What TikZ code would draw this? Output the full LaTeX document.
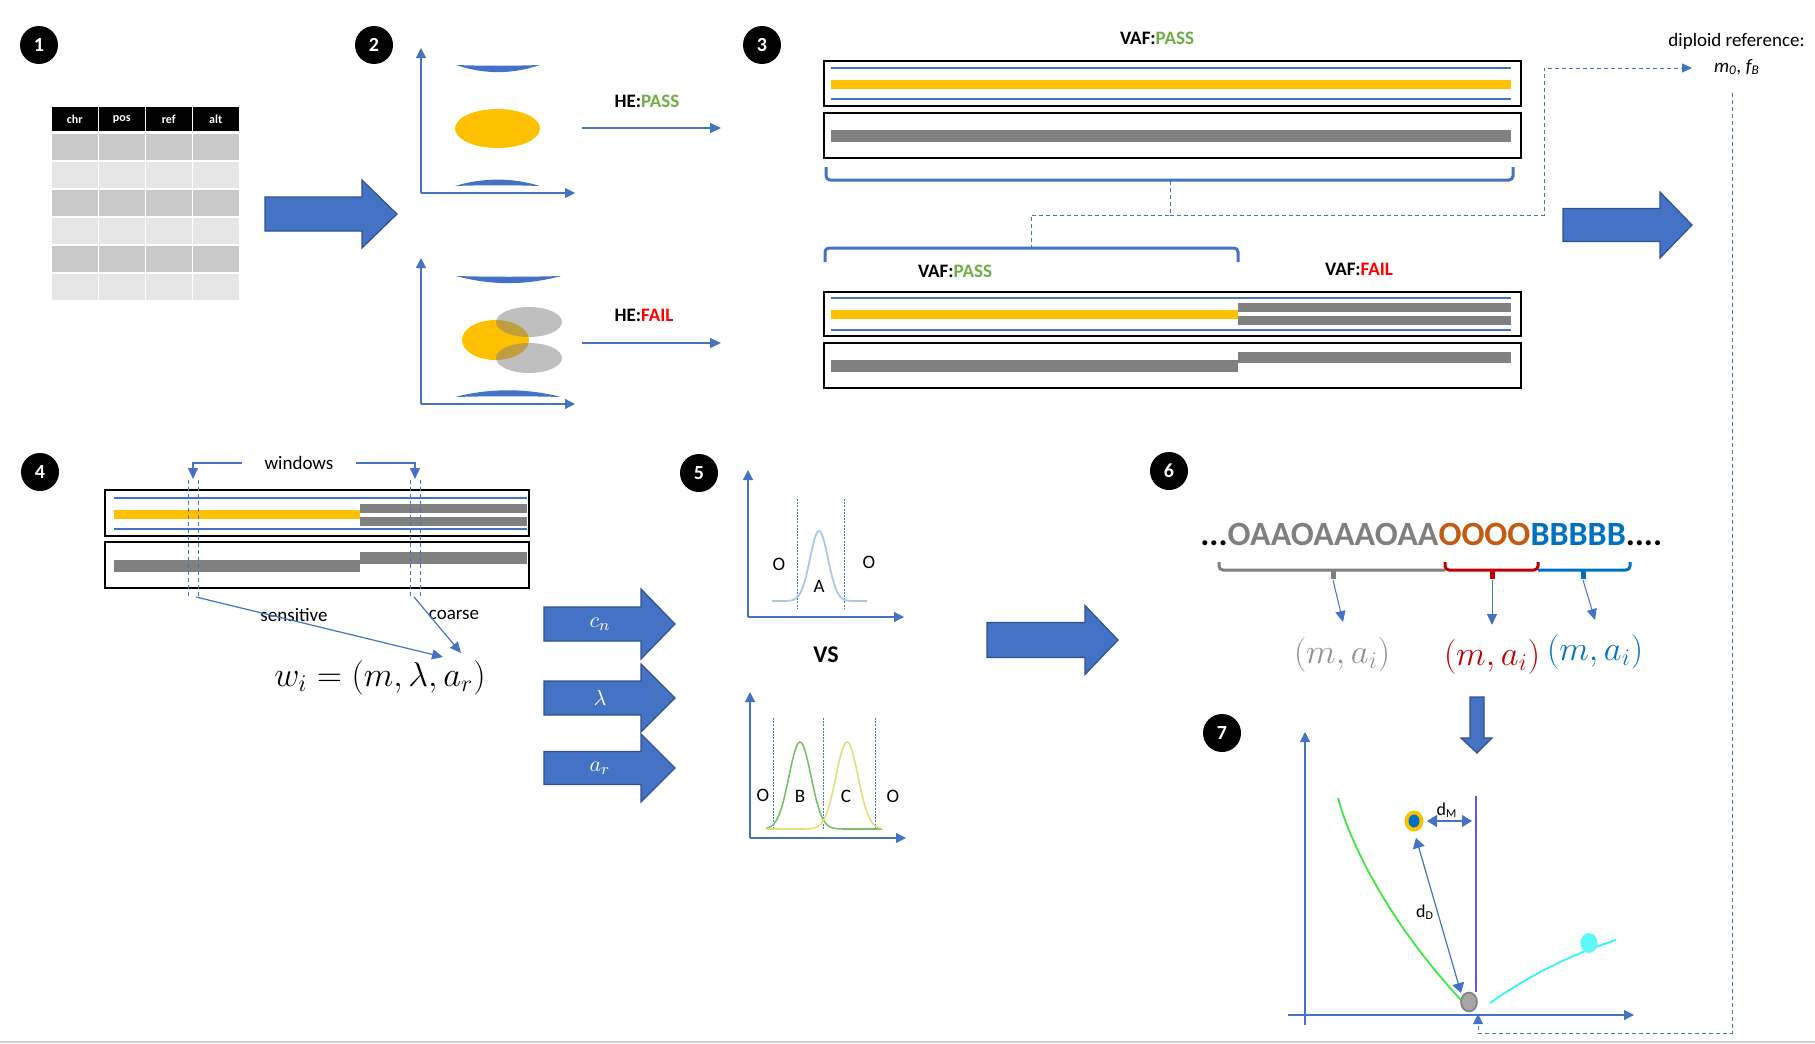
\documentclass[tikz,border=0pt]{standalone}
\usepackage{fontspec}
\setmainfont{Carlito}
\usetikzlibrary{arrows.meta,calc}

\definecolor{offblue}{HTML}{4472C4}
\definecolor{offblueline}{HTML}{2F528F}
\definecolor{offyellow}{HTML}{FFC000}
\definecolor{bargray}{HTML}{808080}
\definecolor{passgreen}{HTML}{70AD47}
\definecolor{failred}{HTML}{FF0000}
\definecolor{darkred}{HTML}{C00000}
\definecolor{seqgray}{HTML}{7F7F7F}
\definecolor{labgray}{HTML}{909090}
\definecolor{seqorange}{HTML}{C55A11}
\definecolor{seqblue}{HTML}{0070C0}
\definecolor{cellgray}{HTML}{C9C9C9}
\definecolor{celllight}{HTML}{E6E6E6}
\definecolor{gaussblue}{HTML}{A9C8E8}
\definecolor{gaussgreen}{HTML}{7CBF6B}
\definecolor{gaussyellow}{HTML}{E0E07A}
\definecolor{limitblue}{HTML}{5A5AF0}
\definecolor{curvegreen}{HTML}{3EE83E}
\definecolor{curvecyan}{HTML}{33F5F5}

\tikzset{
  numdot/.style={circle,fill=black,text=white,font=\bfseries\fontsize{10}{12}\selectfont,minimum size=19pt,inner sep=0pt},
  headtext/.style={text=white,font=\bfseries\fontsize{6}{7}\selectfont,inner sep=0pt},
  flagtext/.style={font=\bfseries\fontsize{9.5}{11}\selectfont,inner sep=0pt},
  plaintext/.style={font=\fontsize{9.5}{11}\selectfont,inner sep=0pt},
  bigmath/.style={font=\fontsize{17}{20}\selectfont,inner sep=0pt},
  arrmath/.style={text=white,font=\fontsize{11}{13}\selectfont,inner sep=0pt},
  thinarr/.style={draw=offblue,line width=0.6pt,-{Triangle[length=5.5pt,width=5pt]}},
  axisarr/.style={draw=offblue,line width=0.6pt,-{Triangle[length=5pt,width=5pt]}},
  blockarr/.style={fill=offblue,draw=offblueline,line width=0.6pt},
  dashline/.style={draw=offblue,line width=0.5pt,dash pattern=on 2pt off 1.5pt},
  chrombox/.style={draw=black,line width=1pt},
  bluebar/.style={draw=offblue,line width=1.3pt},
  bracket/.style={line width=1.5pt,rounded corners=2pt},
}

% block arrow: x start, head start, tip, y middle, shaft half, head half
\newcommand{\blockarrow}[6]{%
  \draw[blockarr] (#1,#4-#5) -- (#2,#4-#5) -- (#2,#4-#6) -- (#3,#4)
    -- (#2,#4+#6) -- (#2,#4+#5) -- (#1,#4+#5) -- cycle;}

\begin{document}
\begin{tikzpicture}[x=0.5pt,y=-0.5pt]
\useasboundingbox (0,0) rectangle (1815,1044);

%%%%% 1: variant table %%%%%
\node[numdot] (n1) at (39,45) {1};
\foreach \t [count=\i from 0] in {chr,pos,ref,alt}{
  \fill[black] (52+47*\i,107) rectangle (97.5+47*\i,131);
  \node[headtext] (hd\i) at (74.75+47*\i,119) {\t};
  \foreach \r in {0,2,4}{\fill[cellgray] (52+47*\i,134+28*\r) rectangle (97.5+47*\i,160+28*\r);}
  \foreach \r in {1,3,5}{\fill[celllight] (52+47*\i,134+28*\r) rectangle (97.5+47*\i,160+28*\r);}
}
\blockarrow{265}{362}{397}{214}{17}{34}

%%%%% 2: HE test %%%%%
\node[numdot] (n2) at (374,45) {2};
\draw[axisarr] (421,193) -- (421,48);
\draw[axisarr] (421,193) -- (575,193);
\fill[offblue] (456,65) .. controls (484,66) and (512,66) .. (540,65) .. controls (512,74.5) and (484,74.5) .. (456,65) -- cycle;
\fill[offblue] (455,186) .. controls (483,185) and (512,185) .. (540,186) .. controls (512,177.5) and (483,177.5) .. (455,186) -- cycle;
\fill[offyellow] (497.5,128.5) ellipse [x radius=42.5, y radius=19.5];
\node[flagtext] (hepass) at (647,101) {HE:\textcolor{passgreen}{PASS}};
\coordinate (hp1) at (582,128); \coordinate (hp2) at (721,128);
\draw[thinarr] (hp1) -- (hp2);

\draw[axisarr] (421,404) -- (421,258);
\draw[axisarr] (421,404) -- (575,404);
\fill[offblue] (456,276) .. controls (491,277) and (526,277) .. (561,276) .. controls (526,285.5) and (491,285.5) .. (456,276) -- cycle;
\fill[offblue] (455,397) .. controls (490,396) and (526,396) .. (561,397) .. controls (526,388) and (490,388) .. (455,397) -- cycle;
\fill[offyellow] (495.5,340) ellipse [x radius=33.5, y radius=20];
\fill[bargray,opacity=0.5] (529,322) ellipse [x radius=33, y radius=15];
\fill[bargray,opacity=0.5] (529,358) ellipse [x radius=33, y radius=15];
\node[flagtext] (hefail) at (644,315) {HE:\textcolor{failred}{FAIL}};
\coordinate (hf1) at (582,343); \coordinate (hf2) at (721,343);
\draw[thinarr] (hf1) -- (hf2);

%%%%% 3: VAF test %%%%%
\node[numdot] (n3) at (762,45) {3};
\node[flagtext] (vaftop) at (1157,38) {VAF:\textcolor{passgreen}{PASS}};
\draw[chrombox] (824,61) rectangle (1521,106);
\draw[bluebar] (831,68) -- (1511,68);
\fill[offyellow] (831,80) rectangle (1511,89);
\draw[bluebar] (831,99) -- (1511,99);
\draw[chrombox] (824,113) rectangle (1521,158);
\fill[bargray] (831,130) rectangle (1511,142);
\draw[bracket,draw=offblue] (826,167) -- (826,180) -- (1513,180) -- (1513,167);

\draw[bracket,draw=offblue] (825,262) -- (825,248) -- (1238,248) -- (1238,262);
\node[flagtext] (vafpass) at (955,271) {VAF:\textcolor{passgreen}{PASS}};
\node[flagtext] (vaffail) at (1359,269) {VAF:\textcolor{failred}{FAIL}};
\draw[chrombox] (824,292) rectangle (1521,336);
\draw[bluebar] (831,298) -- (1511,298);
\fill[offyellow] (831,310) rectangle (1238,319);
\fill[bargray] (1238,303) rectangle (1511,312);
\fill[bargray] (1238,316) rectangle (1511,325);
\draw[bluebar] (831,330) -- (1511,330);
\draw[chrombox] (824,343) rectangle (1521,388);
\fill[bargray] (831,360) rectangle (1238,372);
\fill[bargray] (1238,352) rectangle (1511,363);

\coordinate (brk) at (1170,181);
\coordinate (split) at (1170,215);
\coordinate (lowbrk) at (1031,247);
\coordinate (refin) at (1692,68);
\draw[dashline] (brk) -- (split) -| (lowbrk);
\draw[dashline,-{Triangle[length=5pt,width=4.5pt]}] (split) -- (1544,215) |- (refin);
\node[plaintext,anchor=east] (dipref) at (1805,41) {diploid reference:};
\node[plaintext,font=\itshape\fontsize{9.5}{11}\selectfont] (mzero) at (1737,67) {m\textsubscript{0}, f\textsubscript{B}};
\blockarrow{1563}{1660}{1692}{225}{16.5}{33}

%%%%% 4: windows %%%%%
\node[numdot] (n4) at (40,472) {4};
\draw[chrombox] (105,490) rectangle (529,536);
\draw[bluebar] (114,498) -- (527,498);
\fill[offyellow] (114,510) rectangle (360,519);
\fill[bargray] (360,504) rectangle (527,513);
\fill[bargray] (360,517) rectangle (527,526);
\draw[bluebar] (114,529) -- (527,529);
\draw[chrombox] (105,542) rectangle (529,588);
\fill[bargray] (114,560) rectangle (360,572);
\fill[bargray] (360,552) rectangle (527,564);
\foreach \x in {188,198,410,420}{\draw[dashline] (\x,480) -- (\x,597);}

\node[plaintext] (win) at (299,463) {windows};
\coordinate (winL) at (193,479); \coordinate (winR) at (415,479);
\draw[thinarr] ($(win.west)+(-22,0)$) -| (winL);
\draw[thinarr] ($(win.east)+(22,0)$) -| (winR);
\node[plaintext] (sens) at (294,615) {sensitive};
\node[plaintext] (coarse) at (454,615) {coarse};
\coordinate (sensfrom) at (196,597); \coordinate (sensto) at (443,657);
\coordinate (coarsefrom) at (414,597); \coordinate (coarseto) at (461,653);
\draw[thinarr] (sensfrom) -- (sensto);
\draw[thinarr] (coarsefrom) -- (coarseto);
\node[bigmath] (wi) at (380,678) {$w_i=(m,\lambda,a_r)$};

\blockarrow{544}{641}{675}{624}{17}{35}
\node[arrmath] (cn) at (600,624) {$c_n$};
\blockarrow{544}{641}{675}{698}{17}{34}
\node[arrmath] (lam) at (600,698) {$\lambda$};
\blockarrow{544}{641}{675}{768}{16.5}{34}
\node[arrmath] (ar) at (600,768) {$a_r$};

%%%%% 5: segment models %%%%%
\node[numdot] (n5) at (699,473) {5};
\draw[axisarr] (748,617) -- (748,470);
\draw[axisarr] (748,617) -- (904,617);
\foreach \x in {797,844}{\draw[offblue,line width=0.4pt,dash pattern=on 1pt off 0.6pt] (\x,499) -- (\x,608);}
\draw[gaussblue,line width=0.9pt] plot[domain=772:867,samples=70] (\x,{601-70*exp(-((\x-819)^2)/162)});
\node[plaintext] (oa1) at (779,564) {O};
\node[plaintext] (aa) at (819,586) {A};
\node[plaintext] (oa2) at (869,562) {O};
\node[font=\bfseries\fontsize{12}{14}\selectfont] (vs) at (826,655) {VS};

\draw[axisarr] (750,838) -- (750,692);
\draw[axisarr] (750,838) -- (906,838);
\foreach \x in {773,823,875}{\draw[offblue,line width=0.4pt,dash pattern=on 1pt off 0.6pt] (\x,718) -- (\x,829);}
\draw[gaussgreen,line width=0.8pt] plot[domain=766:882,samples=80] (\x,{829-87*exp(-((\x-800)^2)/242)});
\draw[gaussyellow,line width=0.8pt] plot[domain=766:882,samples=80] (\x,{829-87*exp(-((\x-847)^2)/242)});
\node[plaintext] (ob1) at (763,795) {O};
\node[plaintext] (bb) at (800,796) {B};
\node[plaintext] (cc) at (846,796) {C};
\node[plaintext] (ob2) at (893,796) {O};

\blockarrow{987}{1085}{1118}{640}{17.5}{34.5}

%%%%% 6: segmentation %%%%%
\node[numdot] (n6) at (1169,471) {6};
\node[font=\bfseries\fontsize{17}{20}\selectfont,inner sep=0pt,anchor=base west] (seq) at (1200,545)
  {...\textcolor{seqgray}{OAAOAAAOAA}\textcolor{seqorange}{OOOO}\textcolor{seqblue}{BBBBB}....};
\draw[bracket,draw=seqgray] (1219,562) -- (1219,570) -- (1445,570);
\draw[seqgray,line width=2.5pt] (1333,570) -- (1333,579);
\draw[bracket,draw=darkred] (1445,562) -- (1445,570) -- (1538,570) -- (1538,562);
\draw[darkred,line width=2.5pt] (1492,570) -- (1492,579);
\draw[bracket,draw=seqblue] (1538,570) -- (1630,570) -- (1630,562);
\draw[seqblue,line width=2.5pt] (1583,570) -- (1583,579);
\node[bigmath,text=labgray] (mag) at (1342,655) {$(m,a_i)$};
\node[bigmath,text=darkred] (mar) at (1492,657) {$(m,a_i)$};
\node[bigmath,text=seqblue] (mab) at (1595,652) {$(m,a_i)$};
\coordinate (tg) at (1333,580); \coordinate (tgto) at (1343,622);
\coordinate (tr) at (1492,580); \coordinate (trto) at (1492,625);
\coordinate (tb) at (1583,580); \coordinate (tbto) at (1595,620);
\draw[thinarr,line width=0.5pt] (tg) -- (tgto);
\draw[thinarr,line width=0.5pt] (tr) -- (trto);
\draw[thinarr,line width=0.5pt] (tb) -- (tbto);

\draw[blockarr] (1470,697) -- (1484,697) -- (1484,738) -- (1492,738) -- (1477,753)
  -- (1461,738) -- (1470,738) -- cycle;

%%%%% 7: distances %%%%%
\node[numdot] (n7) at (1222,733) {7};
\draw[axisarr] (1305,1025) -- (1305,732);
\draw[axisarr] (1288,1015) -- (1634,1015);
\draw[curvegreen,line width=0.9pt] (1338,798) .. controls (1352,850) and (1395,930) .. (1463,1002);
\draw[curvecyan,line width=0.9pt] (1490,1003) .. controls (1530,975) and (1570,955) .. (1616,940);
\draw[limitblue,line width=1.3pt] (1476,796) -- (1476,992);
\fill[offyellow] (1414,821) ellipse [x radius=9.5, y radius=10.5];
\fill[seqblue] (1414,821) ellipse [x radius=5.5, y radius=6.5];
\fill[gray!70,draw=gray,line width=0.8pt] (1469,1002) ellipse [x radius=8, y radius=9.5];
\fill[curvecyan!80!white] (1589,943) ellipse [x radius=8.5, y radius=10];
\coordinate (mA) at (1427,821); \coordinate (mB) at (1472,821);
\coordinate (dA) at (1416,838); \coordinate (dB) at (1461,993);
\draw[draw=offblue,line width=0.6pt,{Triangle[length=5pt,width=6pt]}-{Triangle[length=5pt,width=6pt]}] (mA) -- (mB);
\draw[draw=offblue,line width=0.6pt,{Triangle[length=5pt,width=6pt]}-{Triangle[length=5pt,width=6pt]}] (dA) -- (dB);
\node[font=\fontsize{9}{11}\selectfont,inner sep=0pt] (dm) at (1447,810) {d\textsubscript{M}};
\node[font=\fontsize{9}{11}\selectfont,inner sep=0pt] (dd) at (1425,912) {d\textsubscript{D}};

\coordinate (refdown) at (1732,93);
\coordinate (zeroin) at (1478,1014);
\draw[dashline,-{Triangle[length=5pt,width=5pt]}] (refdown) -- (1732,1033) -| (zeroin);

\draw[gray!35,line width=1pt] (0,1042) -- (1815,1042);
\end{tikzpicture}
\end{document}
